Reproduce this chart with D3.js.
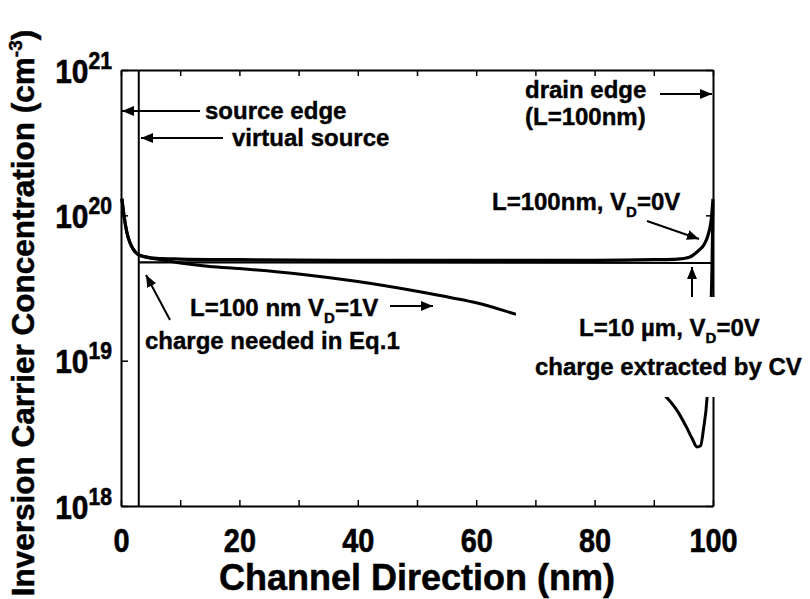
<!DOCTYPE html>
<html>
<head>
<meta charset="utf-8">
<script src="https://cdn.jsdelivr.net/npm/d3@7"></script>
<style>
  body { margin: 0; background: #fff; }
  svg { display: block; }
</style>
</head>
<body>
<div id="wrapper"></div>
<script>
// channel positions (nm) and concentrations (cm^-3)
const vd0X = [0.15, 0.5, 1, 1.5, 2, 2.5, 3, 4, 6, 10, 20, 40, 60, 80, 90, 94, 96, 97.5, 98.5, 99.2, 99.7, 100]
const vd0Values = [1.3e20, 1.0e20, 7.6e19, 6.5e19, 5.9e19, 5.55e19, 5.35e19, 5.2e19, 5.05e19, 5.0e19, 4.95e19, 4.9e19, 4.9e19, 4.9e19, 4.95e19, 5.0e19, 5.15e19, 5.7e19, 6.3e19, 7.4e19, 9.3e19, 1.3e20]

const vd1X = [0.15, 0.5, 1, 1.5, 2, 2.5, 3, 6, 10, 15, 20, 30, 40, 50, 56, 60, 66.5, 72, 78, 84, 88, 92, 94, 95.5, 96.5, 97.3, 97.9, 98.4, 99, 99.5, 99.8, 100]
const vd1Values = [1.3e20, 1.0e20, 7.6e19, 6.5e19, 5.9e19, 5.55e19, 5.35e19, 5.0e19, 4.7e19, 4.45e19, 4.3e19, 3.95e19, 3.5e19, 3.0e19, 2.7e19, 2.5e19, 2.1e19, 1.8e19, 1.45e19, 1.05e19, 8.0e18, 5.7e18, 4.5e18, 3.5e18, 2.9e18, 2.55e18, 2.6e18, 3.4e18, 5.6e18, 1.5e19, 4.0e19, 1.2e20]

const longX = [3, 100]
const longValues = [4.75e19, 4.7e19]

const virtualSourceX = 3

const xTicks = [0, 10, 20, 30, 40, 50, 60, 70, 80, 90, 100]
const xLabelTicks = [0, 20, 40, 60, 80, 100]
const yTicks = [1e18, 1e19, 1e20, 1e21]
const yExponents = ["18", "19", "20", "21"]

const width = 810
const height = 599
const plot = { left: 121, right: 713, top: 70, bottom: 506 }
const font = "'Liberation Sans', Arial, Helvetica, sans-serif"

const svg = d3.select("#wrapper").append("svg")
  .attr("width", width)
  .attr("height", height)
  .style("font-family", font)

const xScale = d3.scaleLinear().domain([0, 100]).range([plot.left, plot.right])
const yScale = d3.scaleLog().domain([1e18, 1e21]).range([plot.bottom, plot.top])

const defs = svg.append("defs")
defs.append("marker")
  .attr("id", "head")
  .attr("viewBox", "0 0 12 10")
  .attr("refX", 12)
  .attr("refY", 5)
  .attr("markerWidth", 12)
  .attr("markerHeight", 10)
  .attr("markerUnits", "userSpaceOnUse")
  .attr("orient", "auto")
  .append("path")
  .attr("d", "M0,0 L12,5 L0,10 Z")
  .attr("fill", "#000")

// axes
const styleAxis = (g) => {
  g.select(".domain").attr("stroke", "#000").attr("stroke-width", 2)
  g.selectAll(".tick line").attr("stroke", "#000").attr("stroke-width", 1.5)
}

svg.append("g")
  .attr("transform", `translate(0,${plot.bottom})`)
  .call(d3.axisBottom(xScale).tickValues(xTicks).tickSizeInner(-6).tickSizeOuter(0)
    .tickFormat((d) => (xLabelTicks.includes(d) ? d : "")))
  .call(styleAxis)
  .call((g) => g.selectAll(".tick text")
    .attr("y", 46).attr("dy", 0)
    .attr("font-size", 34).attr("font-weight", "bold")
    .attr("font-family", font).attr("fill", "#000")
    .attr("stroke", "#000").attr("stroke-width", 0.6)
    .attr("transform", "scale(0.85,1)"))

svg.append("g")
  .attr("transform", `translate(0,${plot.top})`)
  .call(d3.axisTop(xScale).tickValues(xTicks).tickSizeInner(-6).tickSizeOuter(0).tickFormat(""))
  .call(styleAxis)

svg.append("g")
  .attr("transform", `translate(${plot.left},0)`)
  .call(d3.axisLeft(yScale).tickValues(yTicks).tickSizeInner(-7).tickSizeOuter(0).tickFormat(""))
  .call(styleAxis)
  .call((g) => {
    g.selectAll(".tick text").remove()
    g.selectAll(".tick").each(function (d, i) {
      const t = d3.select(this).append("text")
        .attr("text-anchor", "end")
        .attr("transform", "scale(0.88,1)")
        .attr("x", -9 / 0.88)
        .attr("y", 12)
        .attr("font-weight", "bold")
        .attr("fill", "#000")
        .attr("stroke", "#000").attr("stroke-width", 0.6)
      t.append("tspan").attr("font-size", 34).text("10")
      t.append("tspan").attr("font-size", 24).attr("dy", -14).text(yExponents[i])
    })
  })

svg.append("g")
  .attr("transform", `translate(${plot.right},0)`)
  .call(d3.axisRight(yScale).tickValues(yTicks).tickSizeInner(-7).tickSizeOuter(0).tickFormat(""))
  .call(styleAxis)

// virtual source line
svg.append("line")
  .attr("x1", xScale(virtualSourceX)).attr("x2", xScale(virtualSourceX))
  .attr("y1", plot.top).attr("y2", plot.bottom)
  .attr("stroke", "#000").attr("stroke-width", 2)

// curves
const line = d3.line()
  .x((d) => xScale(d[0]))
  .y((d) => yScale(d[1]))
  .curve(d3.curveMonotoneX)

const curves = [
  { x: longX, v: longValues, w: 2.2 },
  { x: vd0X, v: vd0Values, w: 3.2 },
  { x: vd1X, v: vd1Values, w: 3 },
]
curves.forEach((c) => {
  svg.append("path")
    .datum(d3.zip(c.x, c.v))
    .attr("d", line)
    .attr("fill", "none")
    .attr("stroke", "#000")
    .attr("stroke-width", c.w)
    .attr("stroke-linejoin", "round")
})

// white panel behind the long-channel label
svg.append("rect")
  .attr("x", 516).attr("y", 297)
  .attr("width", 290).attr("height", 100)
  .attr("fill", "#fff")

// annotation text
const label = (x, y, parts, size = 24) => {
  const t = svg.append("text")
    .attr("x", x).attr("y", y)
    .attr("font-size", size)
    .attr("font-weight", "bold")
    .attr("fill", "#000")
    .attr("stroke", "#000").attr("stroke-width", 0.4)
  parts.forEach((p) => {
    if (typeof p === "string") t.append("tspan").text(p)
    else t.append("tspan").attr("font-size", p.size || 15).attr("dy", p.dy).text(p.t)
  })
  return t
}

label(205, 119, ["source edge"])
label(232, 146, ["virtual source"])
label(525, 98, ["drain edge"])
label(525, 125, ["(L=100nm)"])
label(492, 210, ["L=100nm, V", { t: "D", dy: 7 }, { t: "=0V", dy: -7, size: 24 }])
label(190, 316, ["L=100 nm V", { t: "D", dy: 7 }, { t: "=1V", dy: -7, size: 24 }])
label(145, 349, ["charge needed in Eq.1"])
label(579, 336, ["L=10 \u00b5m, V", { t: "D", dy: 7 }, { t: "=0V", dy: -7, size: 24 }])
label(535, 375, ["charge extracted by CV"])

// arrows
const arrows = [
  [200, 111, 122, 111],
  [223, 138, 141, 138],
  [660, 94, 712, 94],
  [647, 221, 699, 239],
  [390, 306, 433, 306],
  [170, 320, 146, 275],
  [692, 297, 692, 267],
]
arrows.forEach(([x1, y1, x2, y2]) => {
  svg.append("line")
    .attr("x1", x1).attr("y1", y1).attr("x2", x2).attr("y2", y2)
    .attr("stroke", "#000").attr("stroke-width", 2)
    .attr("marker-end", "url(#head)")
})

// axis titles
svg.append("text")
  .attr("x", 417).attr("y", 590)
  .attr("text-anchor", "middle")
  .attr("font-size", 36)
  .attr("font-weight", "bold")
  .attr("stroke", "#000").attr("stroke-width", 0.5)
  .text("Channel Direction (nm)")

const yTitle = svg.append("text")
  .attr("transform", "translate(34,313) rotate(-90)")
  .attr("text-anchor", "middle")
  .attr("font-size", 31.5)
  .attr("font-weight", "bold")
  .attr("stroke", "#000").attr("stroke-width", 0.5)
yTitle.append("tspan").text("Inversion Carrier Concentration (cm")
yTitle.append("tspan").attr("font-size", 19).attr("dy", -12).text("-3")
yTitle.append("tspan").attr("dy", 12).text(")")
</script>
</body>
</html>
